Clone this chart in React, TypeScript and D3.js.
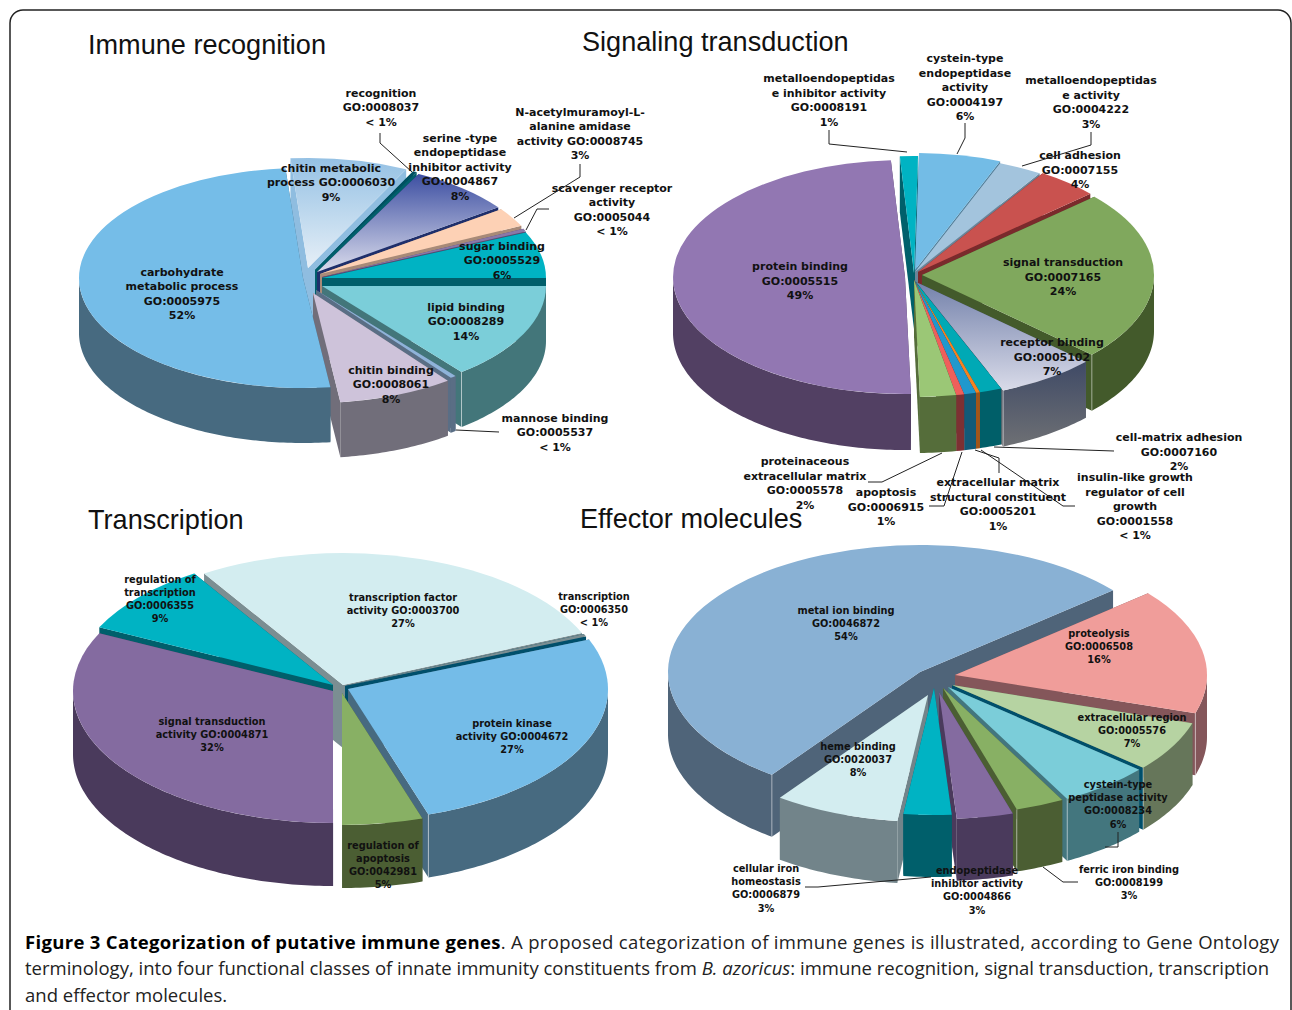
import React, { useEffect, useRef } from 'react';
import * as d3 from 'd3';

type Paint = string | [string, string];

interface Label { lines: string[]; x: number; y: number }

interface PieConfig {
  id: string;
  cx: number; cy: number; rx: number; ry: number; depth: number;
  start: number;
  values: number[];
  tops: Paint[];
  walls: Paint[];
  endCuts?: (string | null)[];
  pull: [number, number][];
  labels: Label[];
  lineGap: number;
  fontSize: number;
  leaders: [number, number][][];
}

// Immune recognition
const immuneValues = [8.47, 0.28, 7.5, 2.78, 0.42, 6.8, 14.3, 0.42, 8.33, 50.7];
const immuneTops: Paint[] = [['#95c1e4', '#e6eff7'], '#004f60', ['#3d4fa2', '#dadcec'], '#fdd1b5', '#8a78a8', '#00b3c3', '#7bced9', '#8fb3d9', '#cec3da', '#75bde8'];
const immuneWalls: Paint[] = ['#8fbde0', '#005f6b', '#1f2f6b', '#a88a78', '#5a4a70', '#005f6b', '#43767a', '#5a6e85', '#716e7a', '#476a80'];
const immunePull: [number, number][] = [[-8, -12], [-1, -10], [1, -8], [4, -6], [6, -3], [6, -2], [6, 6], [0, 10], [-3, 13], [-13, -2]];
const immuneLabels: Label[] = [
  { lines: ['recognition', 'GO:0008037', '< 1%'], x: 381, y: 93 },
  { lines: ['serine -type', 'endopeptidase', 'inhibitor activity', 'GO:0004867', '8%'], x: 460, y: 138 },
  { lines: ['N-acetylmuramoyl-L-', 'alanine amidase', 'activity GO:0008745', '3%'], x: 580, y: 112 },
  { lines: ['scavenger receptor', 'activity', 'GO:0005044', '< 1%'], x: 612, y: 188 },
  { lines: ['chitin metabolic', 'process GO:0006030', '9%'], x: 331, y: 168 },
  { lines: ['sugar binding', 'GO:0005529', '6%'], x: 502, y: 246 },
  { lines: ['carbohydrate', 'metabolic process', 'GO:0005975', '52%'], x: 182, y: 272 },
  { lines: ['lipid binding', 'GO:0008289', '14%'], x: 466, y: 307 },
  { lines: ['chitin binding', 'GO:0008061', '8%'], x: 391, y: 370 },
  { lines: ['mannose binding', 'GO:0005537', '< 1%'], x: 555, y: 418 },
];
const immuneLeaders: [number, number][][] = [
  [[380, 133], [380, 143], [412, 172]],
  [[580, 164], [580, 177], [514, 218]],
  [[549, 209], [537, 209], [526, 230]],
  [[499, 432], [456, 430]],
];

// Signaling transduction
const signalingValues = [1.25, 5.7, 3.05, 4.3, 23.6, 6.95, 1.55, 0.28, 0.83, 0.56, 2.5, 49.44];
const signalingTops: Paint[] = ['#00b3c3', '#73bce6', '#a3c4dd', '#c9524f', '#80a85d', ['#7482ab', '#d9dbe9'], '#00a9b5', '#f58220', '#2098cd', '#ef5f5b', '#9bc776', '#9277b2'];
const signalingWalls: Paint[] = ['#00606b', '#4f7f9c', '#6a8498', '#7a2a2c', '#435a2b', ['#3f4a66', '#6e7074'], '#005f69', '#a2551a', '#125a78', '#7d3033', '#556d3a', '#524063'];
const signalingPull: [number, number][] = [[0, -4], [1, -7], [1, -5], [4, -5], [8, -2], [2, 5], [0, 3], [0, 3], [0, 3], [0, 3], [0, 3], [-9, 0]];
const signalingLabels: Label[] = [
  { lines: ['metalloendopeptidas', 'e inhibitor activity', 'GO:0008191', '1%'], x: 829, y: 78 },
  { lines: ['cystein-type', 'endopeptidase', 'activity', 'GO:0004197', '6%'], x: 965, y: 58 },
  { lines: ['metalloendopeptidas', 'e activity', 'GO:0004222', '3%'], x: 1091, y: 80 },
  { lines: ['cell adhesion', 'GO:0007155', '4%'], x: 1080, y: 155 },
  { lines: ['protein binding', 'GO:0005515', '49%'], x: 800, y: 266 },
  { lines: ['signal transduction', 'GO:0007165', '24%'], x: 1063, y: 262 },
  { lines: ['receptor binding', 'GO:0005102', '7%'], x: 1052, y: 342 },
  { lines: ['cell-matrix adhesion', 'GO:0007160', '2%'], x: 1179, y: 437 },
  { lines: ['insulin-like growth', 'regulator of cell', 'growth', 'GO:0001558', '< 1%'], x: 1135, y: 477 },
  { lines: ['extracellular matrix', 'structural constituent', 'GO:0005201', '1%'], x: 998, y: 482 },
  { lines: ['apoptosis', 'GO:0006915', '1%'], x: 886, y: 492 },
  { lines: ['proteinaceous', 'extracellular matrix', 'GO:0005578', '2%'], x: 805, y: 461 },
];
const signalingLeaders: [number, number][][] = [
  [[829, 130], [829, 144], [907, 152]],
  [[965, 123], [965, 138], [957, 154]],
  [[1091, 132], [1091, 145], [1022, 166]],
  [[1114, 451], [994, 447]],
  [[1075, 506], [1063, 506], [981, 450]],
  [[999, 473], [999, 458], [975, 450]],
  [[929, 506], [944, 506], [962, 452]],
  [[868, 482], [882, 482], [942, 453]],
];

// Transcription
const transcriptionValues = [27.53, 0.33, 26.11, 5, 32.22, 8.81];
const transcriptionTops: Paint[] = ['#d3edf0', '#7b8e92', '#74bce8', '#88b064', '#846ba0', '#00b3c3'];
const transcriptionWalls: Paint[] = ['#7b8e92', '#004f6b', '#476a80', '#4b5e33', '#4a3a5c', '#005f6b'];
const transcriptionPull: [number, number][] = [[1, -4], [3, -3], [6, 0], [0, 4], [-9, 2], [-9, -4]];
const transcriptionLabels: Label[] = [
  { lines: ['regulation of', 'transcription', 'GO:0006355', '9%'], x: 160, y: 579 },
  { lines: ['transcription factor', 'activity GO:0003700', '27%'], x: 403, y: 597 },
  { lines: ['transcription', 'GO:0006350', '< 1%'], x: 594, y: 596 },
  { lines: ['signal transduction', 'activity GO:0004871', '32%'], x: 212, y: 721 },
  { lines: ['protein kinase', 'activity GO:0004672', '27%'], x: 512, y: 723 },
  { lines: ['regulation of', 'apoptosis', 'GO:0042981', '5%'], x: 383, y: 845 },
];

// Effector molecules
const effectorValues = [15.97, 6.44, 5.86, 3.11, 3.61, 3.06, 8.06, 53.89];
const effectorTops: Paint[] = ['#f09d9a', '#b6d3a2', '#7bcdd9', '#88b064', '#846ba0', '#00b3c3', '#d3edf0', '#89b1d4'];
const effectorWalls: Paint[] = ['#84565a', '#66765a', '#43767e', '#4b5e33', '#4a3a5c', '#005f6b', '#72848a', '#4f6479'];
const effectorEndCuts = [null, '#004f6b', null, null, null, null, null, null];
const effectorPull: [number, number][] = [[20, -7], [17, 3], [13, 5], [8, 6], [4, 10], [-1, 6], [-7, 13], [-15, -10]];
const effectorLabels: Label[] = [
  { lines: ['metal ion binding', 'GO:0046872', '54%'], x: 846, y: 610 },
  { lines: ['proteolysis', 'GO:0006508', '16%'], x: 1099, y: 633 },
  { lines: ['extracellular region', 'GO:0005576', '7%'], x: 1132, y: 717 },
  { lines: ['heme binding', 'GO:0020037', '8%'], x: 858, y: 746 },
  { lines: ['cystein-type', 'peptidase activity', 'GO:0008234', '6%'], x: 1118, y: 784 },
  { lines: ['ferric iron binding', 'GO:0008199', '3%'], x: 1129, y: 869 },
  { lines: ['endopeptidase', 'inhibitor activity', 'GO:0004866', '3%'], x: 977, y: 870 },
  { lines: ['cellular iron', 'homeostasis', 'GO:0006879', '3%'], x: 766, y: 868 },
];
const effectorLeaders: [number, number][][] = [
  [[805, 887], [818, 887], [931, 877]],
  [[1078, 882], [1063, 882], [1043, 867]],
  [[1118, 832], [1118, 847], [1105, 847]],
];

const pies: PieConfig[] = [
  { id: 'imm', cx: 316, cy: 280, rx: 224, ry: 110, depth: 55, start: -4.5, values: immuneValues, tops: immuneTops, walls: immuneWalls, pull: immunePull, labels: immuneLabels, lineGap: 14.4, fontSize: 11, leaders: immuneLeaders },
  { id: 'sig', cx: 914, cy: 277, rx: 232, ry: 117, depth: 56, start: -3.5, values: signalingValues, tops: signalingTops, walls: signalingWalls, pull: signalingPull, labels: signalingLabels, lineGap: 14.5, fontSize: 11, leaders: signalingLeaders },
  { id: 'tra', cx: 342, cy: 689, rx: 260, ry: 132, depth: 63, start: -32.3, values: transcriptionValues, tops: transcriptionTops, walls: transcriptionWalls, pull: transcriptionPull, labels: transcriptionLabels, lineGap: 13, fontSize: 9.8, leaders: [] },
  { id: 'eff', cx: 935, cy: 682, rx: 252, ry: 127, depth: 62, start: 50, values: effectorValues, tops: effectorTops, walls: effectorWalls, endCuts: effectorEndCuts, pull: effectorPull, labels: effectorLabels, lineGap: 13.2, fontSize: 9.8, leaders: effectorLeaders },
];

const titles = [
  { text: 'Immune recognition', x: 88, y: 54 },
  { text: 'Signaling transduction', x: 582, y: 51 },
  { text: 'Transcription', x: 88, y: 529 },
  { text: 'Effector molecules', x: 580, y: 528 },
];

const toRad = (d: number) => (d * Math.PI) / 180;
const VISIBLE_WALL = [[-270, -90], [90, 270], [450, 630]].map(r => r.map(toRad));

function drawPie(svg: any, defs: any, cfg: PieConfig) {
  const { cx, cy, rx, ry, depth } = cfg;
  const startAngle = toRad(cfg.start);
  const arcs = d3.pie<number>().sort(null).startAngle(startAngle).endAngle(startAngle + 2 * Math.PI)(cfg.values);
  const unitArc = d3.arc<any>().innerRadius(0).outerRadius(100);
  const polygon = d3.line();

  const paint = (value: Paint, id: string) => {
    if (typeof value === 'string') return value;
    const grad = defs.append('linearGradient').attr('id', id).attr('x1', 0).attr('x2', 0).attr('y1', 0).attr('y2', 1);
    grad.append('stop').attr('offset', '0%').attr('stop-color', value[0]);
    grad.append('stop').attr('offset', '100%').attr('stop-color', value[1]);
    return `url(#${id})`;
  };

  const slices = arcs.map((a, i) => ({ ...a, i, mid: (a.startAngle + a.endAngle) / 2 }));
  // back to front, a big slice on the left side goes on top of its neighbours
  const key = (s: typeof slices[number]) =>
    s.value > 25 && Math.sin(s.mid) < -0.8 ? -2 : Math.cos(s.mid);
  const ordered = [...slices].sort((a, b) => key(b) - key(a));

  ordered.forEach(s => {
    const ax = cx + cfg.pull[s.i][0];
    const ay = cy + cfg.pull[s.i][1];
    const pt = (t: number): [number, number] => [ax + rx * Math.sin(t), ay - ry * Math.cos(t)];
    const g = svg.append('g');
    const wallFill = paint(cfg.walls[s.i], `${cfg.id}-wall-${s.i}`);
    const endCut = cfg.endCuts?.[s.i];

    [s.startAngle, s.endAngle].forEach((t, k) => {
      const [ox, oy] = pt(t);
      g.append('path')
        .attr('d', polygon([[ax, ay], [ox, oy], [ox, oy + depth], [ax, ay + depth]]) + 'Z')
        .attr('fill', k === 1 && endCut ? endCut : wallFill);
    });

    VISIBLE_WALL.forEach(([lo, hi]) => {
      const a0 = Math.max(lo, s.startAngle);
      const a1 = Math.min(hi, s.endAngle);
      if (a1 <= a0) return;
      const ts = d3.range(a0, a1, toRad(1)).concat(a1);
      const top = ts.map(pt);
      const bottom = ts.map(pt).reverse().map(([x, y]) => [x, y + depth] as [number, number]);
      g.append('path').attr('d', polygon([...top, ...bottom]) + 'Z').attr('fill', wallFill);
    });

    g.append('path')
      .attr('d', unitArc(s))
      .attr('transform', `translate(${ax},${ay}) scale(${rx / 100},${ry / 100})`)
      .attr('fill', paint(cfg.tops[s.i], `${cfg.id}-top-${s.i}`));

    // pale seam where a wall stops at a gap between slices
    const seam = (t: number) => {
      const [ox, oy] = pt(t);
      g.append('path').attr('d', polygon([[ox, oy], [ox, oy + depth]]))
        .attr('stroke', 'rgba(255,255,255,0.45)').attr('stroke-width', 1).attr('fill', 'none');
    };
    const endDeg = ((s.endAngle * 180) / Math.PI + 360) % 360;
    const startDeg = ((s.startAngle * 180) / Math.PI + 360) % 360;
    if (endDeg > 90 && endDeg < 170 && s.value > 2) seam(s.endAngle);
    if (startDeg > 200 && startDeg < 270) seam(s.startAngle);
  });
}

function drawNotes(svg: any, cfg: PieConfig) {
  const line = d3.line();
  cfg.leaders.forEach(pts => {
    svg.append('path').attr('d', line(pts)).attr('fill', 'none').attr('stroke', '#222').attr('stroke-width', 1);
  });
  cfg.labels.forEach(l => {
    const text = svg.append('text')
      .attr('text-anchor', 'middle')
      .attr('font-family', '"DejaVu Sans", sans-serif')
      .attr('font-weight', 'bold')
      .attr('font-size', cfg.fontSize)
      .attr('fill', '#111');
    l.lines.forEach((s, j) => {
      text.append('tspan').attr('x', l.x).attr('y', l.y + 4 + j * cfg.lineGap).text(s);
    });
  });
}

export default function App() {
  const svgRef = useRef<SVGSVGElement>(null);

  useEffect(() => {
    if (!svgRef.current) return;
    const svg = d3.select(svgRef.current);
    svg.selectAll('*').remove();
    const defs = svg.append('defs');

    svg.append('rect').attr('width', 1292).attr('height', 1010).attr('fill', '#fff');
    svg.append('rect')
      .attr('x', 10).attr('y', 10).attr('width', 1281).attr('height', 1100).attr('rx', 13)
      .attr('fill', 'none').attr('stroke', '#222').attr('stroke-width', 1.5);

    pies.forEach(p => drawPie(svg, defs, p));
    pies.forEach(p => drawNotes(svg, p));

    titles.forEach(t => {
      svg.append('text').attr('x', t.x).attr('y', t.y)
        .attr('font-family', '"Liberation Sans", Arial, sans-serif').attr('font-size', 27.1).attr('fill', '#111')
        .text(t.text);
    });

    const captionFont = '"Open Sans", sans-serif';
    const first = svg.append('text').attr('x', 25).attr('y', 949).attr('font-family', captionFont)
      .attr('font-size', 18.5).attr('fill', '#222').attr('textLength', 1254).attr('lengthAdjust', 'spacing');
    first.append('tspan').attr('font-weight', 'bold').attr('fill', '#000').text('Figure 3 Categorization of putative immune genes');
    first.append('tspan').text('. A proposed categorization of immune genes is illustrated, according to Gene Ontology');

    const second = svg.append('text').attr('x', 25).attr('y', 975).attr('font-family', captionFont)
      .attr('font-size', 18.5).attr('fill', '#222').attr('textLength', 1244).attr('lengthAdjust', 'spacing');
    second.append('tspan').text('terminology, into four functional classes of innate immunity constituents from ');
    second.append('tspan').attr('font-style', 'italic').text('B. azoricus');
    second.append('tspan').text(': immune recognition, signal transduction, transcription');

    svg.append('text').attr('x', 25).attr('y', 1002).attr('font-family', captionFont)
      .attr('font-size', 18.5).attr('fill', '#222').text('and effector molecules.');
  }, []);

  return (
    <svg
      ref={svgRef}
      width={1292}
      height={1010}
      viewBox="0 0 1292 1010"
      style={{ position: 'absolute', left: 0, top: 0, display: 'block' }}
    />
  );
}
